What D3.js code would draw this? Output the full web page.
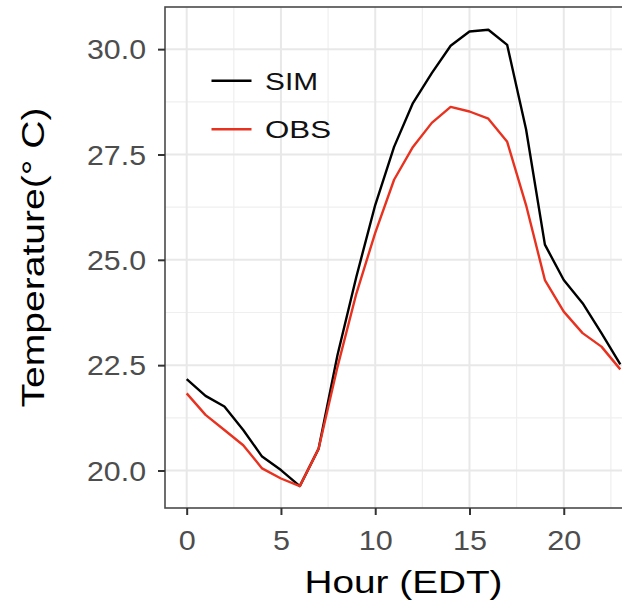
<!DOCTYPE html>
<html>
<head>
<meta charset="utf-8">
<script src="https://cdn.jsdelivr.net/npm/d3@7"></script>
<style>
  body { margin: 0; background: #fff; }
  svg { display: block; font-family: "Liberation Sans", Arial, sans-serif; }
</style>
</head>
<body>
<div id="chart"></div>
<script>
// hourly temperature, SIM vs OBS
const hours = d3.range(0, 24);
const simTemp = [22.17, 21.77, 21.52, 20.96, 20.33, 20.01, 19.63, 20.52, 22.74, 24.6, 26.3, 27.68,
  28.72, 29.43, 30.08, 30.42, 30.46, 30.1, 28.1, 25.36, 24.52, 23.97, 23.26, 22.52];
const obsTemp = [21.83, 21.32, 20.96, 20.6, 20.05, 19.81, 19.63, 20.52, 22.46, 24.2, 25.64, 26.9,
  27.68, 28.25, 28.63, 28.52, 28.35, 27.8, 26.3, 24.52, 23.77, 23.26, 22.94, 22.4];
const xTicks = [0, 5, 10, 15, 20];
const xMinor = [2.5, 7.5, 12.5, 17.5, 22.5];
const yTicks = [20, 22.5, 25, 27.5, 30];
const yMinor = [21.25, 23.75, 26.25, 28.75];
const seriesNames = ['SIM', 'OBS'];
const seriesColors = ['#000000', '#e8321f'];

const width = 622, height = 604;
// panel box; it runs past the right edge of the picture
const pLeft = 165, pTop = 7, pBottom = 508, pRight = 642;

const svg = d3.select('#chart').append('svg')
  .attr('width', width)
  .attr('height', height);

const x = d3.scaleLinear().domain([-1.15, 24.15]).range([pLeft, pRight]);
const y = d3.scaleLinear().domain([19.11, 31.0]).range([pBottom, pTop]);

// grid
const grid = svg.append('g');
grid.selectAll('.vmin').data(xMinor).enter().append('line')
  .attr('x1', d => x(d)).attr('x2', d => x(d)).attr('y1', pTop).attr('y2', pBottom)
  .attr('stroke', '#efefef').attr('stroke-width', 1.2);
grid.selectAll('.hmin').data(yMinor).enter().append('line')
  .attr('x1', pLeft).attr('x2', pRight).attr('y1', d => y(d)).attr('y2', d => y(d))
  .attr('stroke', '#efefef').attr('stroke-width', 1.2);
grid.selectAll('.vmaj').data(xTicks).enter().append('line')
  .attr('x1', d => x(d)).attr('x2', d => x(d)).attr('y1', pTop).attr('y2', pBottom)
  .attr('stroke', '#e8e8e8').attr('stroke-width', 2);
grid.selectAll('.hmaj').data(yTicks).enter().append('line')
  .attr('x1', pLeft).attr('x2', pRight).attr('y1', d => y(d)).attr('y2', d => y(d))
  .attr('stroke', '#e8e8e8').attr('stroke-width', 2);

// lines
const line = d3.line()
  .x((d, i) => x(hours[i]))
  .y(d => y(d));

[simTemp, obsTemp].forEach((s, k) => {
  svg.append('path')
    .datum(s)
    .attr('d', line)
    .attr('fill', 'none')
    .attr('stroke', seriesColors[k])
    .attr('stroke-width', 2.4)
    .attr('stroke-linejoin', 'round');
});

// panel border
svg.append('rect')
  .attr('x', pLeft).attr('y', pTop)
  .attr('width', pRight - pLeft).attr('height', pBottom - pTop)
  .attr('fill', 'none').attr('stroke', '#4a4a4a').attr('stroke-width', 1.6);

// axes
const xAxis = svg.append('g')
  .attr('transform', `translate(0,${pBottom})`)
  .call(d3.axisBottom(x).tickValues(xTicks).tickSize(7).tickPadding(4).tickFormat(d3.format('d')));
const yAxis = svg.append('g')
  .attr('transform', `translate(${pLeft},0)`)
  .call(d3.axisLeft(y).tickValues(yTicks).tickSize(7).tickPadding(12).tickFormat(d3.format('.1f')));

[xAxis, yAxis].forEach(g => {
  g.select('.domain').remove();
  g.selectAll('.tick line').attr('stroke', '#333').attr('stroke-width', 2);
  g.selectAll('.tick text')
    .attr('fill', '#4d4d4d')
    .style('font-size', '27px')
    .attr('font-family', null);
});
xAxis.selectAll('.tick text')
  .attr('dy', null).attr('y', 41.5)
  .attr('textLength', d => String(d).length * 17)
  .attr('lengthAdjust', 'spacingAndGlyphs');
yAxis.selectAll('.tick text')
  .attr('dy', '0.36em')
  .attr('textLength', 59)
  .attr('lengthAdjust', 'spacingAndGlyphs');

// titles
svg.append('text')
  .attr('x', (pLeft + pRight) / 2)
  .attr('y', 593)
  .attr('text-anchor', 'middle')
  .attr('textLength', 198)
  .attr('lengthAdjust', 'spacingAndGlyphs')
  .style('font-size', '32px')
  .text('Hour (EDT)');

svg.append('text')
  .attr('transform', `translate(43.5,${(pTop + pBottom) / 2}) rotate(-90)`)
  .attr('text-anchor', 'middle')
  .attr('textLength', 300)
  .attr('lengthAdjust', 'spacingAndGlyphs')
  .style('font-size', '32px')
  .text('Temperature(° C)');

// legend
const legend = svg.append('g');
const legendY = [80.7, 129.3];
const legendW = [53, 66];
seriesNames.forEach((name, i) => {
  legend.append('line')
    .attr('x1', 211.5).attr('x2', 251.5)
    .attr('y1', legendY[i]).attr('y2', legendY[i])
    .attr('stroke', seriesColors[i]).attr('stroke-width', 2.4);
  legend.append('text')
    .attr('x', 265)
    .attr('y', legendY[i] + 9)
    .attr('textLength', legendW[i])
    .attr('lengthAdjust', 'spacingAndGlyphs')
    .style('font-size', '24.5px')
    .attr('fill', '#111')
    .text(name);
});
</script>
</body>
</html>
